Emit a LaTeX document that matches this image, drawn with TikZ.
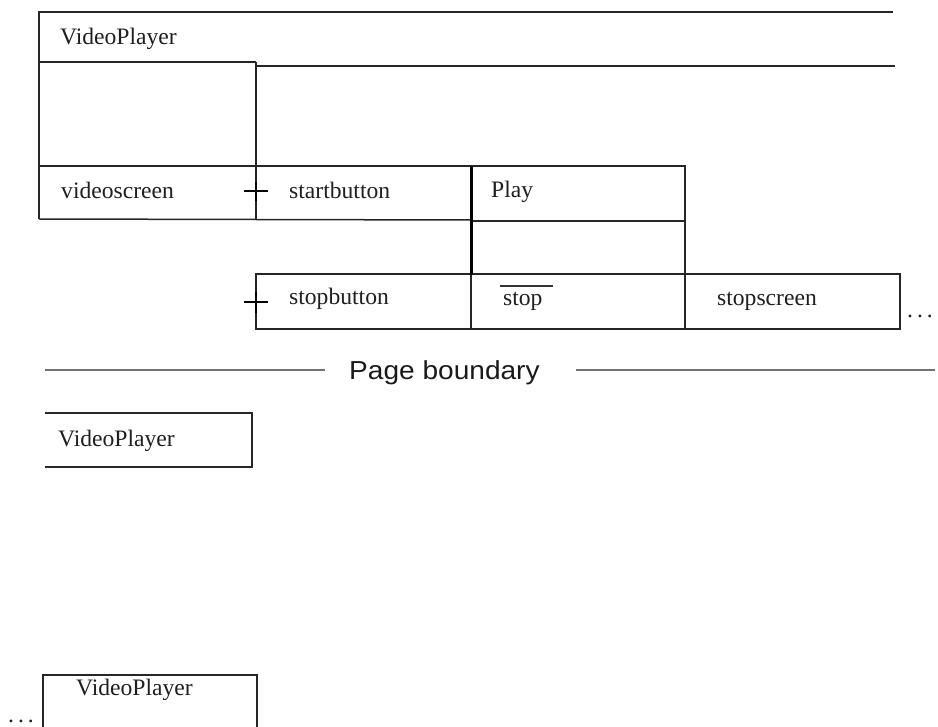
\documentclass[tikz,border=0pt]{standalone}
\usepackage{fontspec}
\setmainfont{Liberation Serif}
\newfontfamily\pbfont{Liberation Sans}
\begin{document}
\begin{tikzpicture}[x=1pt,y=-1pt,
  ln/.style={line width=1.5pt,color=black!85},
  thickln/.style={line width=3pt,color=black},
  plusln/.style={line width=2.5pt,color=black},
  pbln/.style={line width=1.2pt,color=black!55},
  lbl/.style={anchor=base west,inner sep=0pt,font=\fontsize{23.6}{28}\selectfont,text=black!88},
  pblbl/.style={anchor=base west,inner sep=0pt,font=\pbfont\fontsize{26}{30}\selectfont,text=black!90,xscale=1.08,transform shape}]
\useasboundingbox (0,0) rectangle (938,727);
% top VideoPlayer frame
\draw[ln] (39,219) -- (39,12) -- (893,12);
\draw[ln] (39,62) -- (256,62);
\draw[ln] (256,66) -- (895,66);
\draw[ln] (256,62) -- (256,220);
\draw[ln] (39,166) -- (471,166);
\draw[ln] (39,219) -- (471,220);
% Play box
\draw[ln] (471,166) -- (685,166) -- (685,275);
\draw[ln] (471,221) -- (685,221);
% bottom row
\draw[ln] (256,274) rectangle (900,329);
\draw[ln] (471,274) -- (471,329);
\draw[ln] (685,274) -- (685,329);
\draw[thickln] (471,166) -- (471,275);
% plus markers
\draw[plusln] (244,191) -- (268,191) (256,182) -- (256,201);
\draw[plusln] (244,302) -- (268,302) (256,292) -- (256,313);
% texts
\node[lbl] (vp) at (60,45) {VideoPlayer};
\node[lbl] (vscreen) at (61,199) {videoscreen};
\node[lbl] (start) at (289,199) {startbutton};
\node[lbl] (play) at (491,198) {Play};
\node[lbl] (stopb) at (289,305) {stopbutton};
\node[lbl] (stop) at (503,306) {stop};
\draw[line width=1.2pt,color=black!80] (500,286) -- (553,286);
\node[lbl] (stops) at (717,306) {stopscreen};
\node[lbl] (dots1) at (907,318) {.\,.\,.};
% page boundary
\draw[pbln] (45,370) -- (325,370);
\draw[pbln] (576,370) -- (935,370);
\node[pblbl] (pb) at (349,380) {Page boundary};
% second VideoPlayer
\draw[ln] (45,413) -- (252,413) -- (252,467) -- (45,467);
\node[lbl] (vp2) at (58,447) {VideoPlayer};
% third VideoPlayer
\draw[ln] (43,727) -- (43,675) -- (257,675) -- (257,727);
\node[lbl] (vp3) at (76,695) {VideoPlayer};
\node[lbl] (dots2) at (8,722) {.\,.\,.};
\end{tikzpicture}
\end{document}
